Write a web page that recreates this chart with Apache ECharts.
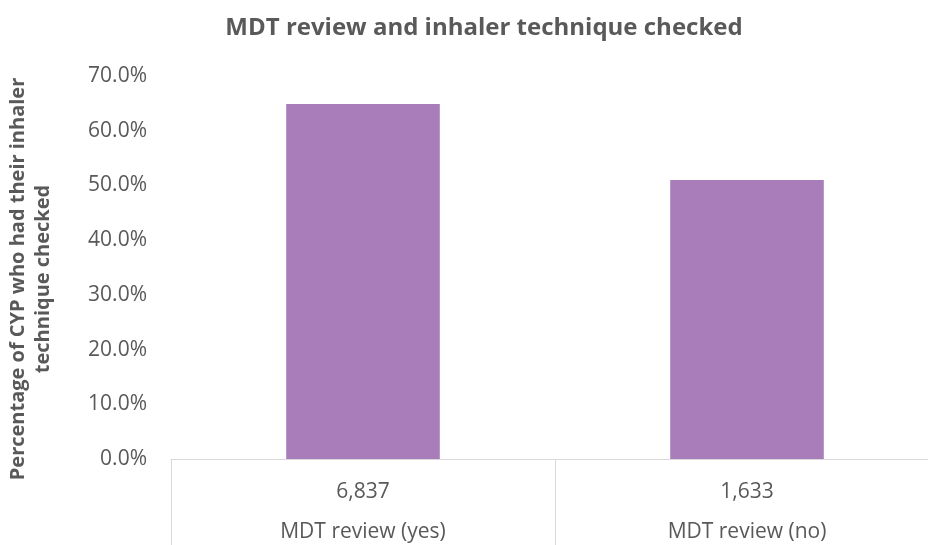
<!DOCTYPE html>
<html>
<head>
<meta charset="utf-8">
<script src="https://cdn.jsdelivr.net/npm/echarts@6/dist/echarts.min.js"></script>
<style>
    html,
    body {
        margin: 0;
        padding: 0;
        background: #fff;
    }
    #chart {
        width: 928px;
        height: 545px;
    }
</style>
</head>
<body>
<div id="chart"></div>
<script>
// values
const categories = ['MDT review (yes)', 'MDT review (no)']
const counts = ['6,837', '1,633']
const percentChecked = [64.9, 51.0]
const yTicks = { min: 0, max: 70, interval: 10 }
const yTitle = 'Percentage of CYP who had their inhaler\ntechnique checked'

const textColor = '#595959'
const fontFamily = '"Open Sans", Lato, sans-serif'

const chart = echarts.init(document.getElementById('chart'))

const option = {
    animation: false,
    title: {
        text: 'MDT review and inhaler technique checked',
        left: 479,
        textAlign: 'center',
        top: 11,
        textStyle: {
            color: textColor,
            fontFamily: fontFamily,
            fontSize: 24,
            fontWeight: 'bold',
        },
    },
    // y axis title, kept as a rotated text block so it is not wrapped
    graphic: [
        {
            type: 'text',
            x: 31,
            y: 279,
            rotation: Math.PI / 2,
            style: {
                text: yTitle,
                fill: textColor,
                font: 'bold 20px ' + fontFamily,
                lineHeight: 25,
                align: 'center',
                verticalAlign: 'middle',
            },
        },
    ],
    grid: {
        left: 171,
        right: -11,
        top: 76,
        bottom: 86,
        containLabel: false,
        outerBoundsMode: 'none',
    },
    xAxis: {
        type: 'category',
        data: categories,
        axisLine: {
            lineStyle: { color: '#d9d9d9', width: 1 },
        },
        axisTick: {
            show: true,
            length: 90,
            lineStyle: { color: '#d9d9d9', width: 1 },
        },
        axisLabel: {
            margin: 13,
            formatter: (value, idx) => '{n|' + counts[idx] + '}\n{c|' + value + '}',
            rich: {
                n: {
                    color: textColor,
                    fontFamily: fontFamily,
                    fontSize: 21,
                    lineHeight: 40,
                },
                c: {
                    color: textColor,
                    fontFamily: fontFamily,
                    fontSize: 21,
                    lineHeight: 40,
                },
            },
        },
    },
    yAxis: {
        type: 'value',
        min: yTicks.min,
        max: yTicks.max,
        interval: yTicks.interval,
        axisLine: { show: false },
        axisTick: { show: false },
        splitLine: { show: false },
        axisLabel: {
            margin: 24,
            color: textColor,
            fontFamily: fontFamily,
            fontSize: 21,
            formatter: (v) => v.toFixed(1) + '%',
        },
    },
    series: [
        {
            type: 'bar',
            data: percentChecked,
            barWidth: '40%',
            itemStyle: { color: '#a87dba' },
        },
    ],
}

chart.setOption(option)
</script>
</body>
</html>
